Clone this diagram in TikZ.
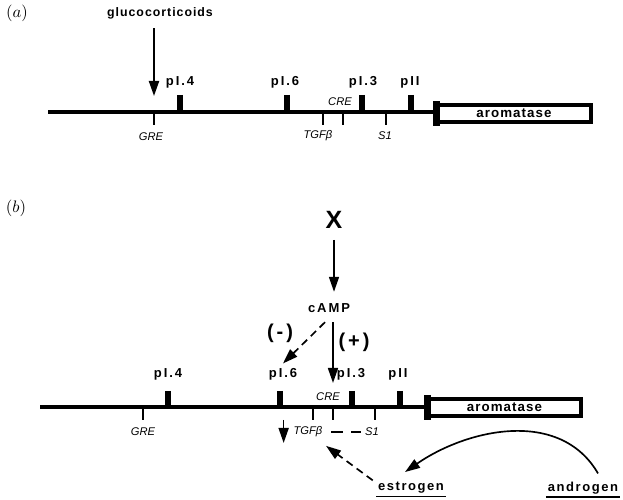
\documentclass[tikz,border=0pt]{standalone}
\usepackage{fontspec}
\setmainfont{Liberation Sans}
\usepackage{tikz}
\usetikzlibrary{arrows.meta, positioning}

\begin{document}
\begin{tikzpicture}[x=0.6pt, y=-0.6pt, >={Triangle[length=9pt, width=6pt]},
	prom/.style={inner sep=0pt, font=\fontsize{7.8}{9}\selectfont\bfseries\addfontfeature{LetterSpace=15}},
	site/.style={inner sep=0pt, font=\fontsize{6.7}{8}\selectfont\itshape},
	hormone/.style={inner sep=1pt, font=\fontsize{7.8}{9}\selectfont\bfseries\addfontfeature{LetterSpace=12}},
	sign/.style={inner sep=0pt, font=\fontsize{12}{14}\selectfont\bfseries\addfontfeature{LetterSpace=15}},
	gene/.style={draw, line width=2.4pt, inner sep=0pt, minimum width=92.3pt, minimum height=9.8pt, font=\fontsize{8}{9}\selectfont\bfseries\addfontfeature{LetterSpace=8}},
	dna/.style={line width=2.2pt},
	promtick/.style={line width=4pt},
	sitetick/.style={line width=1.7pt},
	arr/.style={->, line width=1pt},
	darr/.style={->, line width=1pt, dash pattern=on 4.5pt off 3pt}]
	\useasboundingbox (0,0) rectangle (623,500);
	\node (panel a) at (17,13) {$(a)$};
	\node[inner sep=0pt, font=\fontsize{7.4}{8}\selectfont\bfseries\addfontfeature{LetterSpace=8}] (gluco) at (160,13) {glucocorticoids};
	\node[gene] (gene a) at (514,113.5) {aromatase};
	\coordinate (dna a) at (48,112);
	\draw[dna] (dna a) -- (dna a -| gene a.west);
	\foreach \x/\lx/\n/\t in {180/180/4/pI.4, 287/285/6/pI.6, 362/363/3/pI.3, 411/410/1/pII}{
		\draw[promtick] (\x,95) -- (\x,112);
		\node[prom] (pa\n) at (\lx,82) {\t};
	}
	\foreach \x/\n in {154/gre, 323/tgfb, 343/cre, 386/s1}{
		\coordinate (\n-a) at (\x,112);
		\draw[sitetick] (\n-a) -- ++(0,13);
	}
	\node[site] (gre la) at (151,137) {GRE};
	\node[site] (tgfb la) at (318,136) {TGFβ};
	\node[site] (cre la) at (340,102) {CRE};
	\node[site] (s1 la) at (385,136) {S1};
	\draw[arr, line width=1.2pt, shorten <=5.6pt] (gluco.south -| gre-a) -- ([yshift=9.6pt]gre-a);
	\node (panel b) at (16,208) {$(b)$};
	\node[gene] (gene b) at (504.5,407.5) {aromatase};
	\coordinate (dna b) at (40,407);
	\draw[dna] (dna b) -- (dna b -| gene b.west);
	\foreach \x/\lx/\n/\t in {168/168/4/pI.4, 280/283/6/pI.6, 352/351/3/pI.3, 400/398/1/pII}{
		\draw[promtick] (\x,391) -- (\x,407);
		\node[prom] (pb\n) at (\lx,374) {\t};
	}
	\foreach \x/\n in {143/gre, 313/tgfb, 333/cre, 375/s1}{
		\coordinate (\n-b) at (\x,407);
		\draw[sitetick] (\n-b) -- ++(0,13);
	}
	\foreach \g in {gene a, gene b}{
		\draw[line width=4.2pt] ([xshift=0.9pt, yshift=1.2pt]\g.north west) -- ([xshift=0.9pt, yshift=-1.2pt]\g.south west);
	}
	\node[site] (gre lb) at (143,432) {GRE};
	\node[site] (tgfb lb) at (308,432) {TGFβ};
	\node[site] (cre lb) at (328,397) {CRE};
	\node[site] (s1 lb) at (372,432) {S1};
	\node[inner sep=0pt, font=\fontsize{15}{17}\selectfont\bfseries] (X) at (334,220) {X};
	\node[inner sep=0pt, font=\fontsize{7.8}{9}\selectfont\bfseries\addfontfeature{LetterSpace=15}] (cAMP) at (329,308) {cAMP};
	\node[sign] (minus) at (280,333) {(-)};
	\node[sign] (plus) at (354,342) {(+)};
	\draw[arr, shorten <=6.6pt, shorten >=6.8pt] (X.south) -- (X.south |- cAMP.north);
	\draw[darr] ([shift={(-2.4pt,-5.6pt)}]cAMP.south) -- ([yshift=2.6pt]pb6.north);
	\draw[arr, shorten <=5.6pt] (cAMP.south -| cre-b) -- ([yshift=14.4pt]cre-b);
	\draw[arr] ([shift={(-5.8pt,7.2pt)}]tgfb lb.west) -- ([shift={(-5.8pt,-6.6pt)}]tgfb lb.west);
	\draw[line width=1pt, dash pattern=on 7pt off 5pt, shorten <=5.2pt, shorten >=2.2pt] (tgfb lb.east) -- (s1 lb.west);
	\node[hormone] (estrogen) at (411,488) {estrogen};
	\node[hormone] (androgen) at (583,488) {androgen};
	\draw[line width=1pt] ([yshift=-0.5pt]estrogen.south west) -- ([yshift=-0.5pt]estrogen.south east);
	\draw[line width=1pt] ([yshift=-0.5pt]androgen.south west) -- ([yshift=-0.5pt]androgen.south east);
	\draw[darr] ([xshift=-2pt]estrogen.north west) -- ([shift={(2pt,-5pt)}]tgfb lb.south east);
	\draw[arr] ([shift={(9pt,3.9pt)}]androgen.north) .. controls (560,408) and (467,429) .. ([shift={(-3.6pt,5pt)}]estrogen.north);
\end{tikzpicture}
\end{document}
